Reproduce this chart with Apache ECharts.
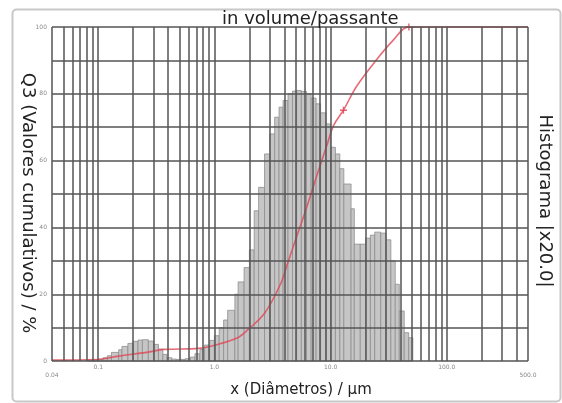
<!DOCTYPE html>
<html>
<head>
<meta charset="utf-8">
<script src="https://cdn.jsdelivr.net/npm/echarts@6/dist/echarts.min.js"></script>
<style>
  html, body { margin: 0; padding: 0; background: #fff; }
  #chart { width: 562px; height: 403px; }
</style>
</head>
<body>
<div id="chart"></div>
<script>
// Histogram classes: lower/upper diameter edges (µm) and class heights (scaled %)
const histEdges = [0.082, 0.091,
  0.1, 0.11, 0.12, 0.13, 0.15, 0.16, 0.18, 0.2, 0.22, 0.24, 0.27, 0.3, 0.33, 0.36, 0.39, 0.43, 0.47, 0.51, 0.56, 0.62, 0.68, 0.75, 0.82, 0.91,
  1.0, 1.1, 1.2, 1.3, 1.5, 1.6, 1.8, 2.0, 2.2, 2.4, 2.7, 3.0, 3.3, 3.6, 3.9, 4.3, 4.7, 5.1, 5.6, 6.2, 6.8, 7.5, 8.2, 9.1,
  10, 11, 12, 13, 15, 16, 18, 20, 22, 24, 27, 30, 33, 36, 39, 43, 47, 51];
const histValues = [0.3, 0.4,
  0.6, 1.0, 1.6, 2.6, 3.4, 4.4, 5.3, 5.9, 6.3, 6.4, 6.0, 5.0, 3.6, 2.0, 1.0, 0.6, 0.5, 0.5, 0.7, 1.2, 2.2, 3.5, 4.8, 6.2,
  7.6, 10, 12.3, 15.2, 20, 23.7, 28, 33.3, 45, 52, 62, 68, 73, 76, 78, 80, 80.8, 81, 80.7, 80, 78.7, 77, 74.3, 71,
  64, 62, 57.6, 53, 45.6, 35, 35, 36.8, 37.7, 38.6, 38.3, 36.3, 30, 23, 15, 8.5, 7];

// Cumulative passing curve Q3 (%)
const cumDiam = [0.04, 0.1, 0.15, 0.26, 0.37, 0.73, 1.07, 1.58, 1.94, 2.7, 3.7, 4.24, 5.15, 5.9, 7.63, 9.29, 10.6, 12.9, 16.7, 24.7, 34.5, 47.2, 500];
const cumQ3   = [0.3, 0.5, 1.5, 2.6, 3.5, 3.8, 5, 7, 9.4, 14.3, 23, 29, 37.7, 43.6, 55.6, 64.6, 70.5, 75.1, 82.2, 90.1, 96, 100, 100];
const markedPoints = [17, 21];

// Log grid positions (µm) and Q3 grid levels (%)
const gridDiameters = [0.04, 0.05, 0.06, 0.07, 0.08, 0.09,
  0.1, 0.2, 0.3, 0.4, 0.5, 0.6, 0.7, 0.8, 0.9,
  1, 2, 3, 4, 5, 6, 7, 8, 9,
  10, 20, 30, 40, 50, 60, 70, 80, 90,
  100, 200, 300, 400, 500];
const gridLevels = [0, 10, 20, 30, 40, 50, 60, 70, 80, 90, 100];

const FONT = 'DejaVu Sans';
const chart = echarts.init(document.getElementById('chart'), null, { renderer: 'canvas' });

const histData = histValues.map((v, i) => [histEdges[i], histEdges[i + 1], v]);
const cumData = cumDiam.map((d, i) => {
  const item = { value: [d, cumQ3[i]] };
  if (markedPoints.includes(i)) {
    item.symbol = 'path://M4,0h2v4h4v2h-4v4h-2v-4h-4v-2h4z';
    item.symbolSize = 7;
  }
  return item;
});

const gridLineStyle = { color: '#555', width: 1.5, type: 'solid' };

chart.setOption({
  animation: false,
  backgroundColor: '#fff',
  title: {
    text: 'in volume/passante',
    left: 217, top: 5,
    textStyle: { fontFamily: FONT, fontSize: 18, fontWeight: 'normal', color: '#222' }
  },
  graphic: [{
    type: 'rect', left: 10, top: 7, z: -10,
    shape: { width: 548, height: 392, r: 4 },
    style: { fill: 'none', stroke: '#c8c8c8', lineWidth: 2 }
  }],
  grid: { left: 52, right: 31, top: 27, bottom: 34 },
  xAxis: {
    type: 'log', logBase: 10, min: 0.04, max: 500,
    name: 'x (Diâmetros) / µm',
    nameLocation: 'middle', nameGap: 14,
    nameTextStyle: { fontFamily: FONT, fontSize: 15, color: '#222', padding: [0, 0, 0, 22] },
    axisLine: { show: false },
    axisTick: { show: false },
    splitLine: { show: false },
    minorSplitLine: { show: false },
    axisLabel: {
      fontFamily: FONT, fontSize: 6, color: '#888', margin: 3,
      showMinLabel: true, showMaxLabel: true,
      formatter: function (v) {
        const r = parseFloat(Number(v).toPrecision(3));
        if (r < 0.1 - 1e-9 || r > 100 + 1e-9) {
          return '{edge|' + (r < 0.1 ? String(r) : r.toFixed(1)) + '}';
        }
        return r < 1 ? String(r) : r.toFixed(1);
      },
      rich: { edge: { fontFamily: FONT, fontSize: 6, color: '#888', padding: [8, 0, 0, 0] } }
    }
  },
  yAxis: [{
    type: 'value', min: 0, max: 100, interval: 10,
    name: 'Q3 (Valores cumulativos) / %',
    nameLocation: 'middle', nameRotate: -90, nameGap: 15,
    nameMoveOverlap: false,
    nameTextStyle: { fontFamily: FONT, fontSize: 18, color: '#222', padding: [0, 0, 0, 18] },
    axisLine: { show: false },
    axisTick: { show: false },
    splitLine: { show: false },
    axisLabel: {
      fontFamily: FONT, fontSize: 6, color: '#888', margin: 5,
      formatter: v => (v % 20 === 0 ? String(v) : '')
    }
  }, {
    type: 'value', min: 0, max: 100, position: 'right',
    name: 'Histograma |x20.0|',
    nameLocation: 'middle', nameRotate: -90, nameGap: 8,
    nameMoveOverlap: false,
    nameTextStyle: { fontFamily: FONT, fontSize: 18, color: '#222', padding: [0, 0, 0, 14] },
    axisLine: { show: false }, axisTick: { show: false },
    axisLabel: { show: false }, splitLine: { show: false }
  }],
  series: [{
    type: 'custom',
    name: 'Histograma',
    yAxisIndex: 1,
    z: 2,
    encode: { x: [0, 1], y: 2 },
    data: histData,
    renderItem: function (params, api) {
      const p0 = api.coord([api.value(0), 0]);
      const p1 = api.coord([api.value(1), api.value(2)]);
      return {
        type: 'rect',
        shape: { x: p0[0], y: p1[1], width: p1[0] - p0[0], height: p0[1] - p1[1] },
        style: { fill: '#c6c6c6', stroke: '#8e8e8e', lineWidth: 0.8 }
      };
    }
  }, {
    type: 'line',
    name: 'grid',
    z: 3,
    silent: true,
    data: [[1, 0]],
    showSymbol: false,
    lineStyle: { opacity: 0 },
    markLine: {
      silent: true,
      symbol: ['none', 'none'],
      label: { show: false },
      lineStyle: gridLineStyle,
      emphasis: { disabled: true },
      data: gridDiameters.map(d => ({ xAxis: d })).concat(gridLevels.map(l => ({ yAxis: l })))
    }
  }, {
    type: 'line',
    name: 'Q3',
    z: 4,
    clip: false,
    smooth: 0.35,
    data: cumData,
    symbol: 'none',
    showSymbol: true,
    itemStyle: { color: 'rgba(225,70,85,0.85)' },
    lineStyle: { color: 'rgba(225,70,85,0.8)', width: 1.6 }
  }]
});
</script>
</body>
</html>
